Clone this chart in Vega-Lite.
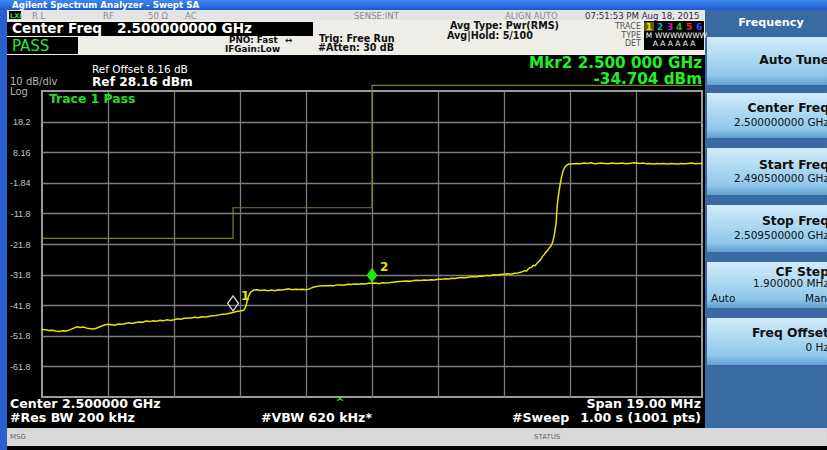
{
  "$schema": "https://vega.github.io/schema/vega-lite/v6.json",
  "width": 660,
  "height": 306,
  "autosize": {"type": "none"},
  "padding": {"left": 42, "top": 91, "right": 125, "bottom": 53},
  "background": "#000000",
  "config": {
    "view": {"stroke": "#9c9c9c", "strokeWidth": 2, "fill": "#000000"},
    "text": {"font": "DejaVu Sans"},
    "axisX": {"labels": false, "ticks": false, "domain": false, "grid": true, "gridColor": "#7c7c7c", "gridWidth": 1.3, "gridOpacity": 1, "title": null},
    "axisY": {"ticks": false, "tickSize": 0, "domain": false, "grid": true, "gridColor": "#7c7c7c", "gridWidth": 1.3, "gridOpacity": 1,
      "labelFont": "Liberation Sans", "labelFontSize": 9, "labelColor": "#c4c4c4", "labelPadding": 12, "labelOverlap": false, "labelBound": false, "title": null}
  },
  "datasets": {
    "panels": [
      {"part": "titlebar", "x": 2489.291, "x2": 2513.098, "y": 57.899, "y2": 54.631},
      {"part": "leftstrip", "x": 2489.291, "x2": 2489.492, "y": 54.631, "y2": -89.16},
      {"part": "light", "x": 2489.492, "x2": 2509.587, "y": 54.631, "y2": 51.363},
      {"part": "cream", "x": 2489.492, "x2": 2509.587, "y": 51.363, "y2": 39.925},
      {"part": "black", "x": 2489.55, "x2": 2489.895, "y": 54.304, "y2": 51.69},
      {"part": "black", "x": 2489.492, "x2": 2498.302, "y": 50.709, "y2": 46.134},
      {"part": "black", "x": 2489.492, "x2": 2491.536, "y": 45.807, "y2": 40.252},
      {"part": "black", "x": 2507.83, "x2": 2509.558, "y": 51.036, "y2": 41.559},
      {"part": "olive", "x": 2507.83, "x2": 2508.118, "y": 50.709, "y2": 47.768},
      {"part": "panel", "x": 2509.587, "x2": 2513.098, "y": 54.631, "y2": -81.971},
      {"part": "msgbar", "x": 2489.492, "x2": 2513.098, "y": -81.971, "y2": -87.853},
      {"part": "key", "x": 2509.644, "x2": 2513.098, "y": 45.807, "y2": 30.121},
      {"part": "key", "x": 2509.644, "x2": 2513.098, "y": 27.506, "y2": 12.801},
      {"part": "key", "x": 2509.644, "x2": 2513.098, "y": 9.533, "y2": -5.827},
      {"part": "key", "x": 2509.644, "x2": 2513.098, "y": -9.095, "y2": -24.454},
      {"part": "key", "x": 2509.644, "x2": 2513.098, "y": -27.722, "y2": -42.755},
      {"part": "key", "x": 2509.644, "x2": 2513.098, "y": -46.023, "y2": -61.382}
    ],
    "trace": [
      {"freq": 2490.5, "amp": -49.8}, {"freq": 2490.6, "amp": -49.9}, {"freq": 2490.7, "amp": -50.1}, {"freq": 2490.8, "amp": -50.0},
      {"freq": 2490.9, "amp": -50.3}, {"freq": 2491.0, "amp": -50.4}, {"freq": 2491.1, "amp": -50.2}, {"freq": 2491.2, "amp": -50.3},
      {"freq": 2491.3, "amp": -49.9}, {"freq": 2491.4, "amp": -49.4}, {"freq": 2491.5, "amp": -48.9}, {"freq": 2491.6, "amp": -49.1},
      {"freq": 2491.7, "amp": -49.0}, {"freq": 2491.8, "amp": -49.4}, {"freq": 2491.9, "amp": -49.5}, {"freq": 2492.0, "amp": -49.6},
      {"freq": 2492.1, "amp": -49.2}, {"freq": 2492.2, "amp": -48.7}, {"freq": 2492.3, "amp": -48.3}, {"freq": 2492.4, "amp": -48.1},
      {"freq": 2492.5, "amp": -48.2}, {"freq": 2492.6, "amp": -48.4}, {"freq": 2492.7, "amp": -48.0}, {"freq": 2492.8, "amp": -48.1},
      {"freq": 2492.9, "amp": -47.8}, {"freq": 2493.0, "amp": -47.6}, {"freq": 2493.1, "amp": -47.8}, {"freq": 2493.2, "amp": -47.5},
      {"freq": 2493.3, "amp": -47.3}, {"freq": 2493.4, "amp": -47.4}, {"freq": 2493.5, "amp": -47.0}, {"freq": 2493.6, "amp": -47.2},
      {"freq": 2493.7, "amp": -46.9}, {"freq": 2493.8, "amp": -47.1}, {"freq": 2493.9, "amp": -46.8}, {"freq": 2494.0, "amp": -46.9},
      {"freq": 2494.1, "amp": -46.6}, {"freq": 2494.2, "amp": -46.8}, {"freq": 2494.3, "amp": -46.6}, {"freq": 2494.4, "amp": -46.3},
      {"freq": 2494.5, "amp": -46.4}, {"freq": 2494.6, "amp": -46.1}, {"freq": 2494.7, "amp": -46.0}, {"freq": 2494.8, "amp": -46.0},
      {"freq": 2494.9, "amp": -45.8}, {"freq": 2495.0, "amp": -45.9}, {"freq": 2495.1, "amp": -45.6}, {"freq": 2495.2, "amp": -45.7},
      {"freq": 2495.3, "amp": -45.5}, {"freq": 2495.4, "amp": -45.3}, {"freq": 2495.5, "amp": -45.2}, {"freq": 2495.6, "amp": -45.0},
      {"freq": 2495.7, "amp": -44.8}, {"freq": 2495.8, "amp": -44.7}, {"freq": 2495.9, "amp": -44.5}, {"freq": 2496.0, "amp": -44.2},
      {"freq": 2496.1, "amp": -43.9}, {"freq": 2496.2, "amp": -43.7}, {"freq": 2496.3, "amp": -43.5}, {"freq": 2496.35, "amp": -42.8},
      {"freq": 2496.4, "amp": -40.8}, {"freq": 2496.45, "amp": -38.8}, {"freq": 2496.5, "amp": -37.7}, {"freq": 2496.55, "amp": -37.2},
      {"freq": 2496.6, "amp": -36.9}, {"freq": 2496.7, "amp": -36.8}, {"freq": 2496.8, "amp": -37.0}, {"freq": 2496.9, "amp": -36.9},
      {"freq": 2497.0, "amp": -37.1}, {"freq": 2497.1, "amp": -36.9}, {"freq": 2497.2, "amp": -37.1}, {"freq": 2497.3, "amp": -36.8},
      {"freq": 2497.4, "amp": -36.9}, {"freq": 2497.5, "amp": -36.7}, {"freq": 2497.6, "amp": -36.5}, {"freq": 2497.7, "amp": -36.8},
      {"freq": 2497.8, "amp": -36.6}, {"freq": 2497.9, "amp": -36.7}, {"freq": 2498.0, "amp": -36.6}, {"freq": 2498.1, "amp": -36.8},
      {"freq": 2498.2, "amp": -36.5}, {"freq": 2498.3, "amp": -36.0}, {"freq": 2498.4, "amp": -35.7}, {"freq": 2498.5, "amp": -35.6},
      {"freq": 2498.6, "amp": -35.5}, {"freq": 2498.7, "amp": -35.5}, {"freq": 2498.8, "amp": -35.4}, {"freq": 2498.9, "amp": -35.5},
      {"freq": 2499.0, "amp": -35.2}, {"freq": 2499.1, "amp": -35.2}, {"freq": 2499.2, "amp": -35.3}, {"freq": 2499.3, "amp": -35.0},
      {"freq": 2499.4, "amp": -35.1}, {"freq": 2499.5, "amp": -34.9}, {"freq": 2499.6, "amp": -35.0}, {"freq": 2499.7, "amp": -34.8},
      {"freq": 2499.8, "amp": -34.9}, {"freq": 2499.9, "amp": -34.7}, {"freq": 2500.0, "amp": -34.7}, {"freq": 2500.1, "amp": -34.6},
      {"freq": 2500.2, "amp": -34.8}, {"freq": 2500.3, "amp": -34.5}, {"freq": 2500.4, "amp": -34.6}, {"freq": 2500.5, "amp": -34.5},
      {"freq": 2500.6, "amp": -34.3}, {"freq": 2500.7, "amp": -34.2}, {"freq": 2500.8, "amp": -34.1}, {"freq": 2500.9, "amp": -34.0},
      {"freq": 2501.0, "amp": -33.9}, {"freq": 2501.1, "amp": -34.0}, {"freq": 2501.2, "amp": -33.8}, {"freq": 2501.3, "amp": -33.7},
      {"freq": 2501.4, "amp": -33.8}, {"freq": 2501.5, "amp": -33.6}, {"freq": 2501.6, "amp": -33.7}, {"freq": 2501.7, "amp": -33.5},
      {"freq": 2501.8, "amp": -33.6}, {"freq": 2501.9, "amp": -33.4}, {"freq": 2502.0, "amp": -33.4}, {"freq": 2502.1, "amp": -33.2},
      {"freq": 2502.2, "amp": -33.3}, {"freq": 2502.3, "amp": -33.0}, {"freq": 2502.4, "amp": -33.1}, {"freq": 2502.5, "amp": -32.9},
      {"freq": 2502.6, "amp": -32.8}, {"freq": 2502.7, "amp": -32.9}, {"freq": 2502.8, "amp": -32.6}, {"freq": 2502.9, "amp": -32.5},
      {"freq": 2503.0, "amp": -32.6}, {"freq": 2503.1, "amp": -32.3}, {"freq": 2503.2, "amp": -32.4}, {"freq": 2503.3, "amp": -32.1},
      {"freq": 2503.4, "amp": -32.2}, {"freq": 2503.5, "amp": -31.9}, {"freq": 2503.6, "amp": -32.0}, {"freq": 2503.7, "amp": -31.8},
      {"freq": 2503.8, "amp": -31.7}, {"freq": 2503.9, "amp": -31.6}, {"freq": 2504.0, "amp": -31.7}, {"freq": 2504.1, "amp": -31.4},
      {"freq": 2504.2, "amp": -31.3}, {"freq": 2504.3, "amp": -31.0}, {"freq": 2504.35, "amp": -30.8}, {"freq": 2504.4, "amp": -30.5},
      {"freq": 2504.45, "amp": -30.7}, {"freq": 2504.5, "amp": -30.0}, {"freq": 2504.55, "amp": -29.6}, {"freq": 2504.6, "amp": -29.4},
      {"freq": 2504.65, "amp": -28.8}, {"freq": 2504.7, "amp": -28.9}, {"freq": 2504.75, "amp": -28.1}, {"freq": 2504.8, "amp": -27.6},
      {"freq": 2504.85, "amp": -27.0}, {"freq": 2504.9, "amp": -26.0}, {"freq": 2504.95, "amp": -25.4}, {"freq": 2505.0, "amp": -24.6},
      {"freq": 2505.05, "amp": -24.0}, {"freq": 2505.1, "amp": -23.1}, {"freq": 2505.15, "amp": -22.5}, {"freq": 2505.2, "amp": -21.3},
      {"freq": 2505.25, "amp": -18.8}, {"freq": 2505.3, "amp": -15.0}, {"freq": 2505.33, "amp": -9.6}, {"freq": 2505.36, "amp": -6.5},
      {"freq": 2505.39, "amp": -4.2}, {"freq": 2505.43, "amp": -1.5}, {"freq": 2505.46, "amp": 0.2}, {"freq": 2505.5, "amp": 2.0},
      {"freq": 2505.55, "amp": 3.2}, {"freq": 2505.6, "amp": 3.9}, {"freq": 2505.65, "amp": 4.2}, {"freq": 2505.7, "amp": 4.3},
      {"freq": 2505.8, "amp": 4.4}, {"freq": 2505.9, "amp": 4.5}, {"freq": 2506.0, "amp": 4.4}, {"freq": 2506.1, "amp": 4.6},
      {"freq": 2506.2, "amp": 4.5}, {"freq": 2506.3, "amp": 4.7}, {"freq": 2506.4, "amp": 4.4}, {"freq": 2506.5, "amp": 4.5},
      {"freq": 2506.6, "amp": 4.6}, {"freq": 2506.7, "amp": 4.5}, {"freq": 2506.8, "amp": 4.4}, {"freq": 2506.9, "amp": 4.6},
      {"freq": 2507.0, "amp": 4.5}, {"freq": 2507.1, "amp": 4.5}, {"freq": 2507.2, "amp": 4.6}, {"freq": 2507.3, "amp": 4.4},
      {"freq": 2507.4, "amp": 4.5}, {"freq": 2507.5, "amp": 4.6}, {"freq": 2507.6, "amp": 4.7}, {"freq": 2507.7, "amp": 4.5},
      {"freq": 2507.8, "amp": 4.6}, {"freq": 2507.9, "amp": 4.4}, {"freq": 2508.0, "amp": 4.5}, {"freq": 2508.1, "amp": 4.3},
      {"freq": 2508.2, "amp": 4.5}, {"freq": 2508.3, "amp": 4.4}, {"freq": 2508.4, "amp": 4.5}, {"freq": 2508.5, "amp": 4.3},
      {"freq": 2508.6, "amp": 4.5}, {"freq": 2508.7, "amp": 4.4}, {"freq": 2508.8, "amp": 4.3}, {"freq": 2508.9, "amp": 4.5},
      {"freq": 2509.0, "amp": 4.4}, {"freq": 2509.1, "amp": 4.5}, {"freq": 2509.2, "amp": 4.6}, {"freq": 2509.3, "amp": 4.4},
      {"freq": 2509.4, "amp": 4.5}, {"freq": 2509.5, "amp": 4.5}
    ],
    "limit": [
      {"i": 0, "freq": 2490.5, "lim": -20},
      {"i": 1, "freq": 2496.0, "lim": -20},
      {"i": 2, "freq": 2496.0, "lim": -10},
      {"i": 3, "freq": 2500.0, "lim": -10},
      {"i": 4, "freq": 2500.0, "lim": 30},
      {"i": 5, "freq": 2509.5, "lim": 30}
    ],
    "markers": [
      {"mkr": "1", "freq": 2496.0, "amp": -44.0},
      {"mkr": "2", "freq": 2500.0, "amp": -34.704}
    ],
    "labels": [
      {"g": "title", "t": "Agilent Spectrum Analyzer - Swept SA", "x": 2489.636, "y": 56.265},
      {"g": "lxi", "t": "LXI", "x": 2489.579, "y": 52.833},
      {"g": "status", "t": "R L", "x": 2490.212, "y": 52.67},
      {"g": "status", "t": "RF", "x": 2492.256, "y": 52.67},
      {"g": "status", "t": "50 Ω", "x": 2493.552, "y": 52.67},
      {"g": "status", "t": "AC", "x": 2494.617, "y": 52.67},
      {"g": "status", "t": "SENSE:INT", "x": 2499.482, "y": 52.67},
      {"g": "status", "t": "ALIGN AUTO", "x": 2503.829, "y": 52.67},
      {"g": "time", "t": "07:51:53 PM Aug 18, 2015", "x": 2506.132, "y": 52.67},
      {"g": "cf", "t": "Center Freq", "x": 2489.636, "y": 48.421},
      {"g": "cf", "t": "2.500000000 GHz", "x": 2492.659, "y": 48.421},
      {"g": "pass", "t": "PASS", "x": 2489.636, "y": 43.029},
      {"g": "info2", "t": "PNO: Fast", "x": 2495.883, "y": 44.827},
      {"g": "info2", "t": "↔", "x": 2497.495, "y": 44.827},
      {"g": "info2", "t": "IFGain:Low", "x": 2495.768, "y": 41.885},
      {"g": "info", "t": "Trig: Free Run", "x": 2498.474, "y": 45.3},
      {"g": "info", "t": "#Atten: 30 dB", "x": 2498.445, "y": 42.05},
      {"g": "info", "t": "Avg Type: Pwr(RMS)", "x": 2502.245, "y": 49.56},
      {"g": "info", "t": "Avg|Hold: 5/100", "x": 2502.159, "y": 46.134},
      {"g": "trhdr", "t": "TRACE", "x": 2507.744, "y": 49.075},
      {"g": "trhdr", "t": "TYPE", "x": 2507.744, "y": 46.297},
      {"g": "trhdr", "t": "DET", "x": 2507.744, "y": 43.519},
      {"g": "tnum", "t": "1", "x": 2507.974, "y": 49.075},
      {"g": "tnum", "t": "2", "x": 2508.291, "y": 49.075},
      {"g": "tnum", "t": "3", "x": 2508.579, "y": 49.075},
      {"g": "tnum", "t": "4", "x": 2508.838, "y": 49.075},
      {"g": "tnum", "t": "5", "x": 2509.126, "y": 49.075},
      {"g": "tnum", "t": "6", "x": 2509.414, "y": 49.075},
      {"g": "tnumw", "t": "M", "x": 2507.974, "y": 46.297},
      {"g": "tnumw", "t": "WWWWWWW", "x": 2508.896, "y": 46.297},
      {"g": "tnumw", "t": "A A A A A A", "x": 2508.694, "y": 43.519},
      {"g": "refsmall", "t": "Ref Offset 8.16 dB", "x": 2491.939, "y": 34.9},
      {"g": "refbig", "t": "Ref 28.16 dBm", "x": 2491.939, "y": 30.94},
      {"g": "div", "t": "10 dB/div", "x": 2489.579, "y": 31.101},
      {"g": "div", "t": "Log", "x": 2489.579, "y": 27.9},
      {"g": "mkr", "t": "Mkr2 2.500 000 GHz", "x": 2509.5, "y": 37.15},
      {"g": "mkr", "t": "-34.704 dBm", "x": 2509.5, "y": 31.92},
      {"g": "tpass", "t": "Trace 1 Pass", "x": 2490.702, "y": 25.546},
      {"g": "caret", "t": "^", "x": 2499.079, "y": -73.801},
      {"g": "foot", "t": "Center 2.500000 GHz", "x": 2489.579, "y": -74.128},
      {"g": "foot", "t": "#Res BW 200 kHz", "x": 2489.579, "y": -78.866},
      {"g": "foot", "t": "#VBW 620 kHz*", "x": 2496.805, "y": -78.866},
      {"g": "foot", "t": "#Sweep", "x": 2504.03, "y": -78.866},
      {"g": "footr", "t": "Span 19.00 MHz", "x": 2509.471, "y": -74.128},
      {"g": "footr", "t": "1.00 s (1001 pts)", "x": 2509.471, "y": -78.866},
      {"g": "msg", "t": "MSG", "x": 2489.579, "y": -84.912},
      {"g": "msg", "t": "STATUS", "x": 2504.664, "y": -84.912},
      {"g": "fhdr", "t": "Frequency", "x": 2511.486, "y": 50.382},
      {"g": "sk", "t": "Auto Tune", "x": 2513.156, "y": 38.291},
      {"g": "sk", "t": "Center Freq", "x": 2513.156, "y": 22.604},
      {"g": "sk", "t": "Start Freq", "x": 2513.156, "y": 3.977},
      {"g": "sk", "t": "Stop Freq", "x": 2513.156, "y": -14.324},
      {"g": "sk", "t": "CF Step", "x": 2513.156, "y": -30.95},
      {"g": "sk", "t": "Freq Offset", "x": 2513.156, "y": -50.925},
      {"g": "skv", "t": "2.500000000 GHz", "x": 2513.156, "y": 17.702},
      {"g": "skv", "t": "2.490500000 GHz", "x": 2513.156, "y": -0.598},
      {"g": "skv", "t": "2.509500000 GHz", "x": 2513.156, "y": -19.226},
      {"g": "skv", "t": "1.900000 MHz", "x": 2513.156, "y": -35.05},
      {"g": "skv", "t": "0 Hz", "x": 2513.156, "y": -55.827},
      {"g": "skl", "t": "Auto", "x": 2509.759, "y": -39.75},
      {"g": "skl", "t": "Man", "x": 2512.465, "y": -39.75}
    ]
  },
  "layer": [
    {
      "data": {"name": "trace"},
      "mark": {"type": "line", "color": "#e4e400", "strokeWidth": 1.5},
      "encoding": {
        "x": {"field": "freq", "type": "quantitative",
          "scale": {"domain": [2490.5, 2509.5], "nice": false, "zero": false},
          "axis": {"orient": "bottom", "values": [2492.4, 2494.3, 2496.2, 2498.1, 2500.0, 2501.9, 2503.8, 2505.7, 2507.6], "tickCount": 20,
            "labels": false, "ticks": false, "domain": false, "grid": true, "title": ""}},
        "y": {"field": "amp", "type": "quantitative",
          "scale": {"domain": [-71.84, 28.16], "nice": false, "zero": false},
          "axis": {"orient": "left", "values": [18.16, 8.16, -1.84, -11.84, -21.84, -31.84, -41.84, -51.84, -61.84], "tickCount": 20,
            "labelExpr": "abs(datum.value) < 10 ? '' + datum.value : '' + round(datum.value * 10) / 10",
            "labelOverlap": false, "grid": true, "title": ""}}
      }
    },
    {
      "data": {"name": "panels"},
      "transform": [{"filter": "datum.part !== 'titlebar' && datum.part !== 'key'"}],
      "mark": {"type": "rect"},
      "encoding": {
        "x": {"field": "x", "type": "quantitative"},
        "x2": {"field": "x2"},
        "y": {"field": "y", "type": "quantitative"},
        "y2": {"field": "y2"},
        "fill": {"field": "part", "type": "nominal", "legend": null,
          "scale": {"domain": ["leftstrip", "light", "cream", "black", "olive", "panel", "msgbar"],
            "range": ["#2a5fd0", "#e4e4e4", "#eeede8", "#000000", "#5c5c00", "#3a6aa3", "#d9d9d9"]}}
      }
    },
    {
      "data": {"name": "panels"},
      "transform": [{"filter": "datum.part === 'titlebar'"}],
      "mark": {"type": "rect", "fill": {"gradient": "linear", "x1": 0, "y1": 0, "x2": 0, "y2": 1,
        "stops": [{"offset": 0, "color": "#3f88f2"}, {"offset": 1, "color": "#1d58cf"}]}},
      "encoding": {
        "x": {"field": "x", "type": "quantitative"},
        "x2": {"field": "x2"},
        "y": {"field": "y", "type": "quantitative"},
        "y2": {"field": "y2"}
      }
    },
    {
      "data": {"name": "panels"},
      "transform": [{"filter": "datum.part === 'key'"}],
      "mark": {"type": "rect", "fill": {"gradient": "linear", "x1": 0, "y1": 0, "x2": 0, "y2": 1,
        "stops": [{"offset": 0, "color": "#d2ecfa"}, {"offset": 0.8, "color": "#8fc8eb"}, {"offset": 1, "color": "#5f9ecf"}]}},
      "encoding": {
        "x": {"field": "x", "type": "quantitative"},
        "x2": {"field": "x2"},
        "y": {"field": "y", "type": "quantitative"},
        "y2": {"field": "y2"}
      }
    },
    {
      "data": {"name": "limit"},
      "mark": {"type": "line", "color": "#808028", "strokeWidth": 1.2, "clip": false},
      "encoding": {
        "x": {"field": "freq", "type": "quantitative"},
        "y": {"field": "lim", "type": "quantitative"},
        "order": {"field": "i"}
      }
    },
    {
      "data": {"name": "markers"},
      "transform": [{"filter": "datum.mkr === '1'"}],
      "mark": {"type": "point", "shape": "M0,-1L0.72,0L0,1L-0.72,0Z", "size": 225, "filled": false, "stroke": "#d8d8d8", "strokeWidth": 1.3, "opacity": 1, "yOffset": -8.5},
      "encoding": {
        "x": {"field": "freq", "type": "quantitative"},
        "y": {"field": "amp", "type": "quantitative"}
      }
    },
    {
      "data": {"name": "markers"},
      "transform": [{"filter": "datum.mkr === '2'"}],
      "mark": {"type": "point", "shape": "M0,-1L0.72,0L0,1L-0.72,0Z", "size": 225, "filled": true, "fill": "#14ee14", "opacity": 1, "yOffset": -8},
      "encoding": {
        "x": {"field": "freq", "type": "quantitative"},
        "y": {"field": "amp", "type": "quantitative"}
      }
    },
    {
      "data": {"name": "markers"},
      "mark": {"type": "text", "font": "DejaVu Sans", "fontSize": 12, "fontWeight": "bold", "color": "#e4e400", "align": "left", "baseline": "middle", "dx": 8, "dy": -16},
      "encoding": {
        "x": {"field": "freq", "type": "quantitative"},
        "y": {"field": "amp", "type": "quantitative"},
        "text": {"field": "mkr"}
      }
    },
    {
      "data": {"name": "labels"},
      "encoding": {
        "x": {"field": "x", "type": "quantitative"},
        "y": {"field": "y", "type": "quantitative"},
        "text": {"field": "t"}
      },
      "layer": [
        {"transform": [{"filter": "datum.g === 'title'"}], "mark": {"type": "text", "fontSize": 8.7, "fontWeight": "bold", "color": "#ffffff", "align": "left", "baseline": "middle"}},
        {"transform": [{"filter": "datum.g === 'lxi'"}], "mark": {"type": "text", "fontSize": 6.5, "fontWeight": "bold", "color": "#3ad23a", "align": "left", "baseline": "middle"}},
        {"transform": [{"filter": "datum.g === 'status'"}], "mark": {"type": "text", "fontSize": 8.5, "color": "#8c8c8c", "align": "left", "baseline": "middle"}},
        {"transform": [{"filter": "datum.g === 'time'"}], "mark": {"type": "text", "fontSize": 8.6, "color": "#303030", "align": "left", "baseline": "middle"}},
        {"transform": [{"filter": "datum.g === 'cf'"}], "mark": {"type": "text", "fontSize": 13.6, "fontWeight": "bold", "color": "#ffffff", "align": "left", "baseline": "middle"}},
        {"transform": [{"filter": "datum.g === 'pass'"}], "mark": {"type": "text", "fontSize": 15, "color": "#2ee62e", "align": "left", "baseline": "middle"}},
        {"transform": [{"filter": "datum.g === 'info'"}], "mark": {"type": "text", "fontSize": 9.6, "fontWeight": "bold", "color": "#111111", "align": "left", "baseline": "middle"}},
        {"transform": [{"filter": "datum.g === 'info2'"}], "mark": {"type": "text", "fontSize": 8.8, "fontWeight": "bold", "color": "#111111", "align": "left", "baseline": "middle"}},
        {"transform": [{"filter": "datum.g === 'trhdr'"}], "mark": {"type": "text", "fontSize": 8, "color": "#555555", "align": "right", "baseline": "middle"}},
        {"transform": [{"filter": "datum.g === 'tnum'"}], "mark": {"type": "text", "fontSize": 9, "fontWeight": "bold", "align": "center", "baseline": "middle"},
          "encoding": {"color": {"field": "t", "type": "nominal", "legend": null,
            "scale": {"domain": ["1", "2", "3", "4", "5", "6"], "range": ["#e8e800", "#00b8c8", "#c020c0", "#20c020", "#e03030", "#3050ff"]}}}},
        {"transform": [{"filter": "datum.g === 'tnumw'"}], "mark": {"type": "text", "fontSize": 7.5, "color": "#ffffff", "align": "center", "baseline": "middle"}},
        {"transform": [{"filter": "datum.g === 'refsmall'"}], "mark": {"type": "text", "fontSize": 10.5, "color": "#ffffff", "align": "left", "baseline": "middle"}},
        {"transform": [{"filter": "datum.g === 'refbig'"}], "mark": {"type": "text", "fontSize": 12.2, "fontWeight": "bold", "color": "#ffffff", "align": "left", "baseline": "middle"}},
        {"transform": [{"filter": "datum.g === 'div'"}], "mark": {"type": "text", "fontSize": 10, "color": "#b4b4b4", "align": "left", "baseline": "middle"}},
        {"transform": [{"filter": "datum.g === 'mkr'"}], "mark": {"type": "text", "fontSize": 15.2, "fontWeight": "bold", "color": "#22f022", "align": "right", "baseline": "middle"}},
        {"transform": [{"filter": "datum.g === 'tpass'"}], "mark": {"type": "text", "fontSize": 12.4, "fontWeight": "bold", "color": "#22dd22", "align": "left", "baseline": "middle"}},
        {"transform": [{"filter": "datum.g === 'caret'"}], "mark": {"type": "text", "fontSize": 11, "fontWeight": "bold", "color": "#22dd22", "align": "center", "baseline": "middle"}},
        {"transform": [{"filter": "datum.g === 'foot'"}], "mark": {"type": "text", "fontSize": 12.6, "fontWeight": "bold", "color": "#ffffff", "align": "left", "baseline": "middle"}},
        {"transform": [{"filter": "datum.g === 'footr'"}], "mark": {"type": "text", "fontSize": 12.6, "fontWeight": "bold", "color": "#ffffff", "align": "right", "baseline": "middle"}},
        {"transform": [{"filter": "datum.g === 'msg'"}], "mark": {"type": "text", "fontSize": 7, "color": "#666666", "align": "left", "baseline": "middle"}},
        {"transform": [{"filter": "datum.g === 'fhdr'"}], "mark": {"type": "text", "fontSize": 11.2, "fontWeight": "bold", "color": "#ffffff", "align": "center", "baseline": "middle"}},
        {"transform": [{"filter": "datum.g === 'sk'"}], "mark": {"type": "text", "fontSize": 12.3, "fontWeight": "bold", "color": "#101010", "align": "right", "baseline": "middle"}},
        {"transform": [{"filter": "datum.g === 'skv'"}], "mark": {"type": "text", "fontSize": 10.5, "color": "#101010", "align": "right", "baseline": "middle"}},
        {"transform": [{"filter": "datum.g === 'skl'"}], "mark": {"type": "text", "fontSize": 10.5, "color": "#101010", "align": "left", "baseline": "middle"}}
      ]
    }
  ]
}
